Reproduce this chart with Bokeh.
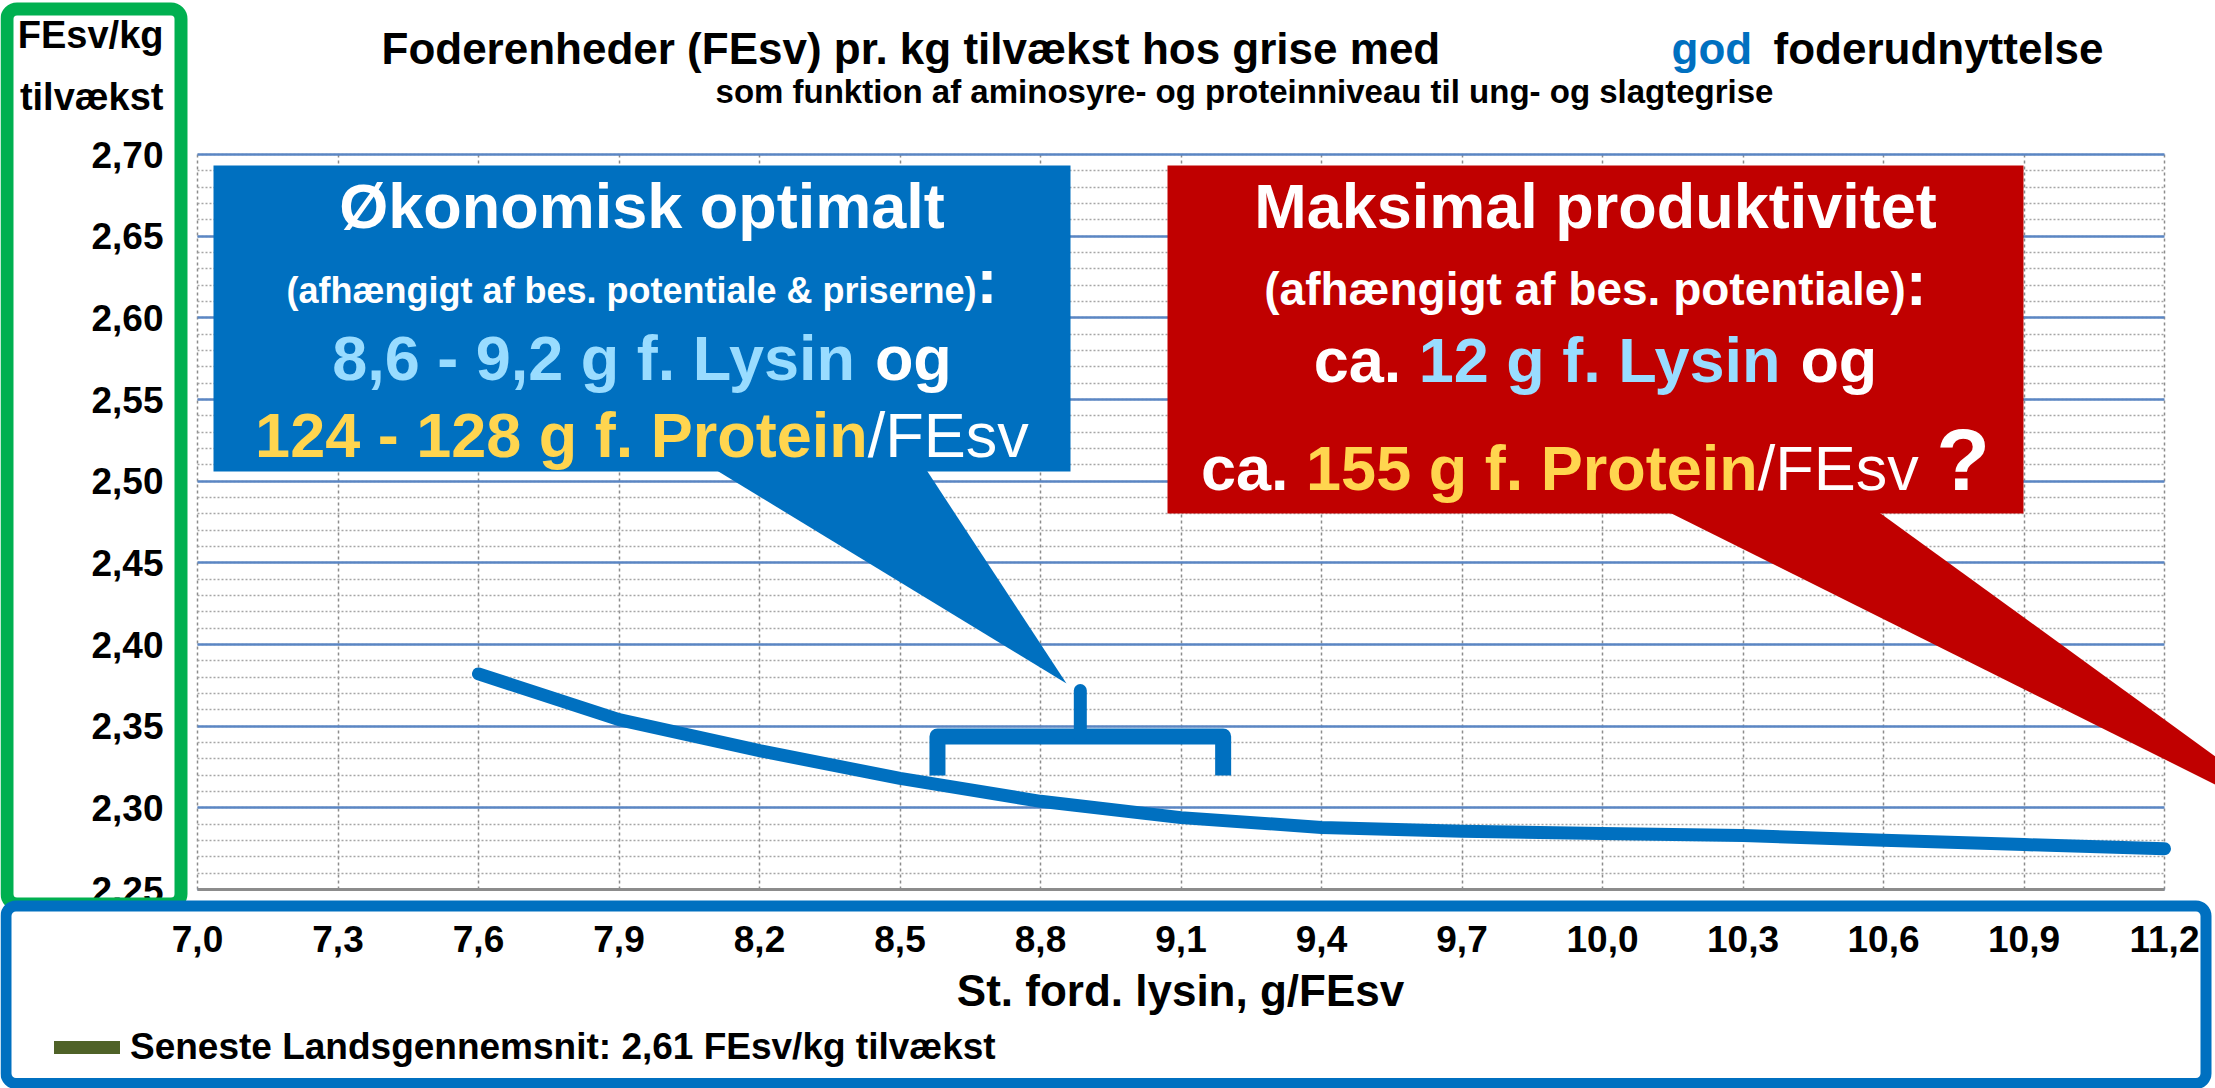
from bokeh.plotting import figure
from bokeh.models import (Range1d, FixedTicker, CustomJSTickFormatter, Label, BoxAnnotation,
                          PolyAnnotation, Legend, LegendItem)
from bokeh.embed import file_html
from bokeh.resources import INLINE

# ---------------- DATA ----------------
lysin = [7.6, 7.9, 8.2, 8.5, 8.8, 9.1, 9.4, 9.7, 10.0, 10.3, 10.6, 10.9, 11.2]
fesv = [2.382, 2.354, 2.335, 2.318, 2.304, 2.294, 2.288, 2.2857, 2.2843, 2.283, 2.2802, 2.2775, 2.2749]
x_ticks = [7.0, 7.3, 7.6, 7.9, 8.2, 8.5, 8.8, 9.1, 9.4, 9.7, 10.0, 10.3, 10.6, 10.9, 11.2]
y_ticks = [2.25, 2.30, 2.35, 2.40, 2.45, 2.50, 2.55, 2.60, 2.65, 2.70]
optimal_lysin = [8.6, 9.2]
landsgennemsnit = 2.61          # legend-only series (not visible in the chart area)

title_main = "Foderenheder (FEsv) pr. kg tilvækst hos grise med"
title_god = "god"
title_end = "foderudnyttelse"
subtitle = "som funktion af aminosyre- og proteinniveau til ung- og slagtegrise"
y_title = ["FEsv/kg", "tilvækst"]
x_title = "St. ford. lysin, g/FEsv"
legend_label = "Seneste Landsgennemsnit: " + f"{landsgennemsnit:.2f}".replace(".", ",") + " FEsv/kg tilvækst"

# ---------------- STYLE ----------------
FONT = "Liberation Sans"
BLUE = "#0070C0"
RED = "#C00000"
GREEN = "#00B050"
LBLUE = "#99DCFF"
YELLOW = "#FFD54F"
OLIVE = "#4F6228"
WHITE = "white"
NAN = float("nan")

W, H = 2215, 1088
# pixel positions of the chart area (x = 7.0 .. 11.2, y = 2.70 .. 2.25)
X0, X1 = 197.0, 2164.0
Y0, Y1 = 154.0, 889.0
XMIN, XMAX, YMIN, YMAX = 7.0, 11.2, 2.25, 2.70


def dx(px):
    return XMIN + (px - X0) * (XMAX - XMIN) / (X1 - X0)


def dy(py):
    return YMAX - (py - Y0) * (YMAX - YMIN) / (Y1 - Y0)


p = figure(width=W, height=H, x_range=Range1d(dx(0), dx(W)), y_range=Range1d(dy(H), dy(0)),
           output_backend="svg", toolbar_location=None, title=None,
           min_border=0, min_border_left=0, min_border_right=0,
           min_border_top=0, min_border_bottom=0)
p.outline_line_color = None
p.background_fill_color = "white"
p.border_fill_color = "white"

# axes, placed at the edges of the chart area
p.xaxis.ticker = FixedTicker(ticks=x_ticks)
p.xaxis.formatter = CustomJSTickFormatter(code="return tick.toFixed(1).replace('.', ',')")
y_minor = [round(YMIN + 0.01 * i, 2) for i in range(46)]
p.yaxis.ticker = FixedTicker(ticks=y_ticks, minor_ticks=y_minor)
p.yaxis.formatter = CustomJSTickFormatter(code="return tick.toFixed(2).replace('.', ',')")
p.xaxis.fixed_location = YMIN
p.yaxis.fixed_location = XMIN
p.xaxis.bounds = (XMIN, XMAX)
p.yaxis.bounds = (YMIN, YMAX)
for ax in (p.xaxis[0], p.yaxis[0]):
    ax.major_label_text_font = FONT
    ax.major_label_text_font_style = "bold"
    ax.major_label_text_font_size = "37px"
    ax.major_label_text_color = "black"
    ax.major_tick_line_color = None
    ax.minor_tick_line_color = None
    ax.major_tick_out = 0
    ax.major_tick_in = 0
    ax.minor_tick_out = 0
    ax.minor_tick_in = 0
p.xaxis.axis_line_color = "#8C8C8C"
p.xaxis.axis_line_width = 3
p.yaxis.axis_line_color = None
p.xaxis.major_label_standoff = 36
p.yaxis.major_label_standoff = 34

# grids
xg, yg = p.xgrid[0], p.ygrid[0]
xg.bounds = (XMIN, XMAX)
yg.bounds = (YMIN, YMAX)
xg.cross_bounds = (YMIN, YMAX)
yg.cross_bounds = (XMIN, XMAX)
yg.grid_line_color = "#5B86C4"
yg.grid_line_width = 2.5
yg.minor_grid_line_color = "#A6A6A6"
yg.minor_grid_line_width = 1.5
yg.minor_grid_line_dash = "2 2"
xg.grid_line_color = "#8C8C8C"
xg.grid_line_width = 1.5
xg.grid_line_dash = "3 3"

# data line
p.line(lysin, fesv, line_width=13, color=BLUE, line_cap="round", line_join="round")

# curly brace marking the optimal lysin range
b0, b1 = optimal_lysin[0] - 0.02, optimal_lysin[1] - 0.01
bc = (b0 + b1) / 2
y_leg, y_bar, y_top = dy(775), dy(736), dy(690)
p.line([b0, b0, b1, b1], [y_leg, y_bar, y_bar, y_leg], line_width=16, color=BLUE,
       line_join="round", line_cap="butt")
p.line([bc, bc], [y_bar, y_top], line_width=13, color=BLUE, line_cap="round")

# legend series (its values are not shown in the chart area)
r_avg = p.line(x=[NAN, NAN], y=[landsgennemsnit, landsgennemsnit], line_width=13,
               color=OLIVE, line_cap="round")
leg = Legend(items=[LegendItem(label=legend_label, renderers=[r_avg])],
             location=(54, 20), border_line_color=None, background_fill_alpha=0,
             padding=0, margin=0, spacing=0, glyph_width=66, glyph_height=40,
             label_height=40, label_standoff=10, label_text_font=FONT,
             label_text_font_style="bold", label_text_font_size="37px",
             label_text_color="black")
p.add_layout(leg)

# callout boxes
p.add_layout(PolyAnnotation(xs=[dx(713), dx(925), dx(1066)], ys=[dy(468), dy(468), dy(683)],
                            fill_color=BLUE, fill_alpha=1, line_color=None))
p.add_layout(BoxAnnotation(left=dx(213), right=dx(1070), top=dy(165), bottom=dy(471),
                           fill_color=BLUE, fill_alpha=1, line_color=None))
p.add_layout(PolyAnnotation(xs=[dx(1665), dx(1876), dx(2339)], ys=[dy(510), dy(510), dy(846)],
                            fill_color=RED, fill_alpha=1, line_color=None))
p.add_layout(BoxAnnotation(left=dx(1167), right=dx(2023), top=dy(165), bottom=dy(513),
                           fill_color=RED, fill_alpha=1, line_color=None))

# frames
p.add_layout(BoxAnnotation(left=dx(6.5), right=dx(180.5), top=dy(8.5), bottom=dy(903.5),
                           fill_color=None, fill_alpha=0, line_color=GREEN, line_alpha=1,
                           line_width=13, border_radius=10))
p.add_layout(BoxAnnotation(left=dx(5.5), right=dx(2205.5), top=dy(905.5), bottom=dy(1083),
                           fill_color=None, fill_alpha=0, line_color=BLUE, line_alpha=1,
                           line_width=11, border_radius=10))

# text helpers (Arial / Liberation Sans advance widths, 1/1000 em)
BOLD_W = {' ': 278, '(': 333, ')': 333, ',': 278, '-': 333, '.': 278, '/': 278, ':': 333,
          '?': 611, '&': 722, 'E': 667, 'F': 611, 'L': 611, 'M': 833, 'P': 667, 'S': 667,
          'Ø': 778, 'a': 556, 'b': 611, 'c': 556, 'd': 611, 'e': 556, 'f': 333, 'g': 611,
          'h': 611, 'i': 278, 'k': 556, 'l': 278, 'm': 889, 'n': 611, 'o': 611, 'p': 611,
          'r': 389, 's': 556, 't': 333, 'u': 611, 'v': 556, 'y': 556, 'æ': 889}
for d in "0123456789":
    BOLD_W[d] = 556
REG_W = {' ': 278, '/': 278, 'F': 611, 'E': 667, 's': 500, 'v': 500}
BASE_SHIFT = 0.35   # correction so that the given y is the text's baseline


def tw(t, size, bold=True):
    table = BOLD_W if bold else REG_W
    return sum(table.get(ch, 556) for ch in t) * size / 1000.0


def put(text, sx, sy, size, color="black", bold=True, align="left"):
    p.add_layout(Label(x=dx(sx), y=dy(sy - BASE_SHIFT * size), text=text, text_font=FONT,
                       text_font_size=f"{size}px",
                       text_font_style="bold" if bold else "normal",
                       text_color=color, text_align=align, text_baseline="alphabetic"))


def seg_line(segs, cx, sy):
    total = sum(tw(t, s, b) for t, c, s, b in segs)
    x = cx - total / 2
    for t, c, s, b in segs:
        lead = len(t) - len(t.lstrip(" "))
        x += tw(" " * lead, s, b)
        core = t.strip(" ")
        if core:
            put(core, x, sy, s, c, b)
        x += tw(t.lstrip(" "), s, b)


# titles
put(title_main, 381, 63, 44)
put(title_god, 1671, 63, 44, BLUE)
put(title_end, 1773, 63, 44)
put(subtitle, 1244, 103, 33, align="center")
put(y_title[0], 163, 48, 38, align="right")
put(y_title[1], 163, 110, 38, align="right")
put(x_title, 1180, 1005, 44, align="center")

# blue callout text
cb = 641.5
seg_line([("Økonomisk optimalt", WHITE, 63, True)], cb, 228)
seg_line([("(afhængigt af bes. potentiale & priserne)", WHITE, 36, True), (":", WHITE, 63, True)], cb, 303)
seg_line([("8,6 - 9,2 g f. Lysin", LBLUE, 63, True), (" og", WHITE, 63, True)], cb, 380)
seg_line([("124 - 128 g f. Protein", YELLOW, 63, True), ("/FEsv", WHITE, 63, False)], cb, 457)

# red callout text
cr = 1595
seg_line([("Maksimal produktivitet", WHITE, 63, True)], cr, 228)
seg_line([("(afhængigt af bes. potentiale)", WHITE, 46, True), (":", WHITE, 63, True)], cr, 305)
seg_line([("ca. ", WHITE, 63, True), ("12 g f. Lysin", LBLUE, 63, True), (" og", WHITE, 63, True)], cr, 382)
seg_line([("ca. ", WHITE, 63, True), ("155 g f. Protein", YELLOW, 63, True), ("/FEsv ", WHITE, 63, False),
          ("?", WHITE, 88, True)], cr, 490)

open("out.html", "w").write(file_html(p, INLINE))
